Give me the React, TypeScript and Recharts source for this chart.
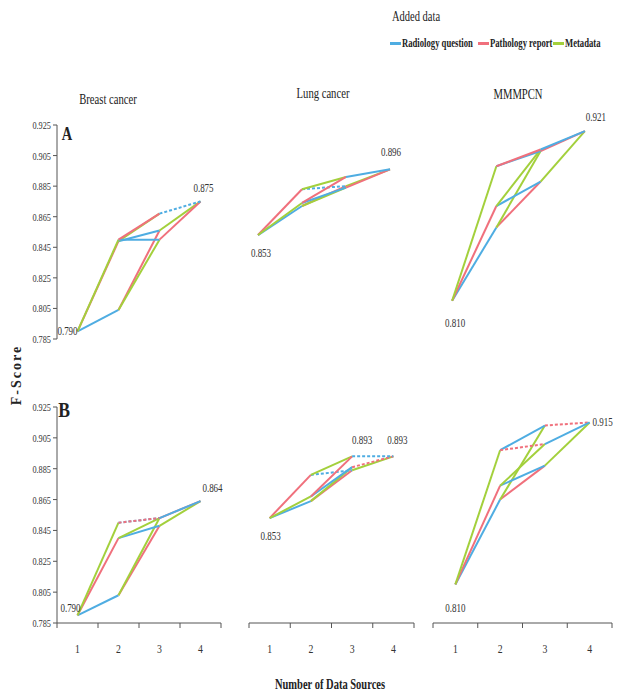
import React from 'react';
import { LineChart, Line, XAxis, YAxis, ReferenceDot } from 'recharts';

// number of data sources for each node of the lattice
const nodeSources = [1, 2, 2, 2, 3, 3, 3, 4];
const xLabels = [1, 2, 3, 4];
const yTicks = [0.785, 0.805, 0.825, 0.845, 0.865, 0.885, 0.905, 0.925];
const seriesNames = ['Radiology question', 'Pathology report', 'Metadata'];
const seriesColors = ['#4FADE2', '#F0707C', '#A3D03C'];
const panelTitles = ['Breast cancer', 'Lung cancer', 'MMMPCN'];
const rowLetters = ['A', 'B'];

// node order: base, +R, +P, +M, +R+P, +R+M, +P+M, all three
const breastA = [0.790, 0.804, 0.849, 0.850, 0.856, 0.850, 0.867, 0.875];
const lungA = [0.853, 0.872, 0.883, 0.874, 0.885, 0.884, 0.891, 0.896];
const mmmA = [0.810, 0.858, 0.872, 0.898, 0.888, 0.908, 0.909, 0.921];
const breastB = [0.790, 0.803, 0.840, 0.850, 0.848, 0.853, 0.853, 0.864];
const lungB = [0.853, 0.864, 0.881, 0.867, 0.884, 0.886, 0.893, 0.893];
const mmmB = [0.810, 0.865, 0.874, 0.897, 0.887, 0.913, 0.901, 0.915];

// edges of the lattice, and which data source gets added on each
const edgeFrom = [0, 0, 0, 1, 1, 2, 2, 3, 3, 4, 5, 6];
const edgeTo = [1, 2, 3, 4, 5, 4, 6, 5, 6, 7, 7, 7];
const edgeAdded = [0, 1, 2, 1, 2, 0, 2, 0, 1, 2, 1, 0];

const FONT = "'Liberation Serif', 'DejaVu Serif', serif";
const SX = 0.75;
const xBounds = [...xLabels.map((v) => v - 0.5), xLabels[xLabels.length - 1] + 0.5];

type LabelCfg = { node: number; ox: number; oy: number };
type PanelCfg = { values: number[]; dashed: number[]; labels: LabelCfg[] };

const rows: PanelCfg[][] = [
  [
    { values: breastA, dashed: [11], labels: [{ node: 0, ox: -10, oy: 4 }, { node: 7, ox: 3, oy: -9 }] },
    { values: lungA, dashed: [5], labels: [{ node: 0, ox: 3, oy: 22 }, { node: 7, ox: 1, oy: -13 }] },
    { values: mmmA, dashed: [], labels: [{ node: 0, ox: 3, oy: 26 }, { node: 7, ox: 11, oy: -10 }] },
  ],
  [
    { values: breastB, dashed: [7, 8], labels: [{ node: 0, ox: -7, oy: -3 }, { node: 7, ox: 12, oy: -9 }] },
    { values: lungB, dashed: [5, 10, 11], labels: [{ node: 0, ox: 1, oy: 22 }, { node: 6, ox: 10, oy: -12 }, { node: 7, ox: 4, oy: -12 }] },
    { values: mmmB, dashed: [8, 10], labels: [{ node: 0, ox: 0, oy: 28 }, { node: 7, ox: 13, oy: 4 }] },
  ],
];

// plot area left/right for each panel
const plotX = [
  [[57, 221], [236, 412], [430, 607]],
  [[57, 221], [249, 414], [433, 612]],
];

function Txt({ x, y, size, bold, sx = SX, rotate, spacing, left, children }: any) {
  const tf = left
    ? `translate(0,-50%) scaleX(${sx})`
    : `translate(-50%,-50%)${rotate ? ` rotate(${rotate}deg)` : ''} scaleX(${sx})`;
  return (
    <div
      style={{
        position: 'absolute', left: x, top: y, transform: tf,
        transformOrigin: left ? 'left center' : 'center center',
        fontFamily: FONT, fontSize: size, fontWeight: bold ? 700 : 400,
        whiteSpace: 'nowrap', lineHeight: 1, color: '#222', letterSpacing: spacing,
      }}
    >
      {children}
    </div>
  );
}

const YTick = ({ x, y, payload }: any) => (
  <g transform={`translate(${x},${y})`}>
    <text transform={`scale(${SX},1)`} textAnchor="end" dy={4} fontSize={11} fill="#333" fontFamily={FONT}>
      {payload.value.toFixed(3)}
    </text>
  </g>
);

const makeXTick = (half: number) => ({ x, y, index }: any) => {
  if (index >= xLabels.length) return <g />;
  return (
    <g transform={`translate(${x + half},${y})`}>
      <text transform={`scale(${SX},1)`} textAnchor="middle" dy={23} fontSize={13} fill="#333" fontFamily={FONT}>
        {xLabels[index]}
      </text>
    </g>
  );
};

const PointLabel = ({ viewBox, ox, oy, txt }: any) => {
  if (!viewBox) return null;
  const cx = viewBox.x + (viewBox.width || 0) / 2;
  const cy = viewBox.y + (viewBox.height || 0) / 2;
  return (
    <g transform={`translate(${cx + ox},${cy + oy})`}>
      <text transform={`scale(${SX},1)`} textAnchor="middle" fontSize={12} fill="#333" fontFamily={FONT}>
        {txt}
      </text>
    </g>
  );
};

function Panel({ cfg, row, col }: { cfg: PanelCfg; row: number; col: number }) {
  const [pl, pr] = plotX[row][col];
  const first = col === 0;
  const ml = first ? 0 : 20;
  const mr = 20;
  const chartLeft = first ? 0 : pl - ml;
  const width = pr + mr - chartLeft;
  const top = row === 0 ? 95 : 377;
  const plotH = row === 0 ? 214 : 216;
  const xH = row === 1 ? 40 : 0;
  const mb = row === 0 ? 30 : 0;
  const height = 30 + plotH + xH + mb;
  const half = (pr - pl) / 8;

  return (
    <div style={{ position: 'absolute', left: chartLeft, top }}>
      <LineChart width={width} height={height} margin={{ top: 30, right: mr, bottom: mb, left: ml }}>
        <XAxis
          type="number" dataKey="x" domain={[0.5, 4.5]} ticks={xBounds} interval={0}
          allowDataOverflow hide={row === 0} height={xH}
          axisLine={{ stroke: '#555' }} tickLine={{ stroke: '#555' }} tickSize={5} tickMargin={2}
          tick={makeXTick(half)}
        />
        <YAxis
          type="number" domain={[0.785, 0.925]} ticks={yTicks} interval={0} allowDataOverflow
          hide={!first} width={57}
          axisLine={{ stroke: '#555' }} tickLine={{ stroke: '#555' }} tickSize={4} tickMargin={2}
          tick={<YTick />}
        />
        {edgeFrom.map((f, i) => {
          const t = edgeTo[i];
          const data = [
            { x: nodeSources[f], y: cfg.values[f] },
            { x: nodeSources[t], y: cfg.values[t] },
          ];
          return (
            <Line
              key={`e${i}`}
              data={data}
              dataKey="y"
              type="linear"
              stroke={seriesColors[edgeAdded[i]]}
              strokeWidth={2}
              strokeDasharray={cfg.dashed.includes(i) ? '3 2' : undefined}
              dot={false}
              activeDot={false}
              isAnimationActive={false}
            />
          );
        })}
        {cfg.labels.map((l, i) => (
          <ReferenceDot
            key={`l${i}`}
            x={nodeSources[l.node]}
            y={cfg.values[l.node]}
            r={0}
            stroke="none"
            fill="none"
            label={<PointLabel ox={l.ox} oy={l.oy} txt={cfg.values[l.node].toFixed(3)} />}
          />
        ))}
      </LineChart>
    </div>
  );
}

const titlePos = [[108, 100], [323, 94], [518, 95]];
const letterPos = [[67, 134, 18], [64, 410, 22]];
const legendLineX = [390, 478, 553];

export default function App() {
  return (
    <div style={{ position: 'absolute', left: 0, top: 0, width: 627, height: 697, background: '#fff', overflow: 'hidden' }}>
      <Txt x={416} y={17} size={14}>Added data</Txt>
      {seriesNames.map((name, i) => (
        <React.Fragment key={name}>
          <div style={{ position: 'absolute', left: legendLineX[i], top: 42, width: 11, height: 3, background: seriesColors[i] }} />
          <Txt x={legendLineX[i] + 12} y={43} size={12} bold sx={0.72} left>{name}</Txt>
        </React.Fragment>
      ))}
      {panelTitles.map((t, i) => (
        <Txt key={t} x={titlePos[i][0]} y={titlePos[i][1]} size={14} sx={0.76}>{t}</Txt>
      ))}
      {rowLetters.map((l, i) => (
        <Txt key={l} x={letterPos[i][0]} y={letterPos[i][1]} size={letterPos[i][2]} bold sx={0.8}>{l}</Txt>
      ))}
      <Txt x={17} y={375} size={14} bold sx={1} rotate={-90} spacing={2}>F-Score</Txt>
      <Txt x={330} y={685} size={14} bold>Number of Data Sources</Txt>
      {rows.map((r, ri) => r.map((cfg, ci) => <Panel key={`${ri}-${ci}`} cfg={cfg} row={ri} col={ci} />))}
    </div>
  );
}
